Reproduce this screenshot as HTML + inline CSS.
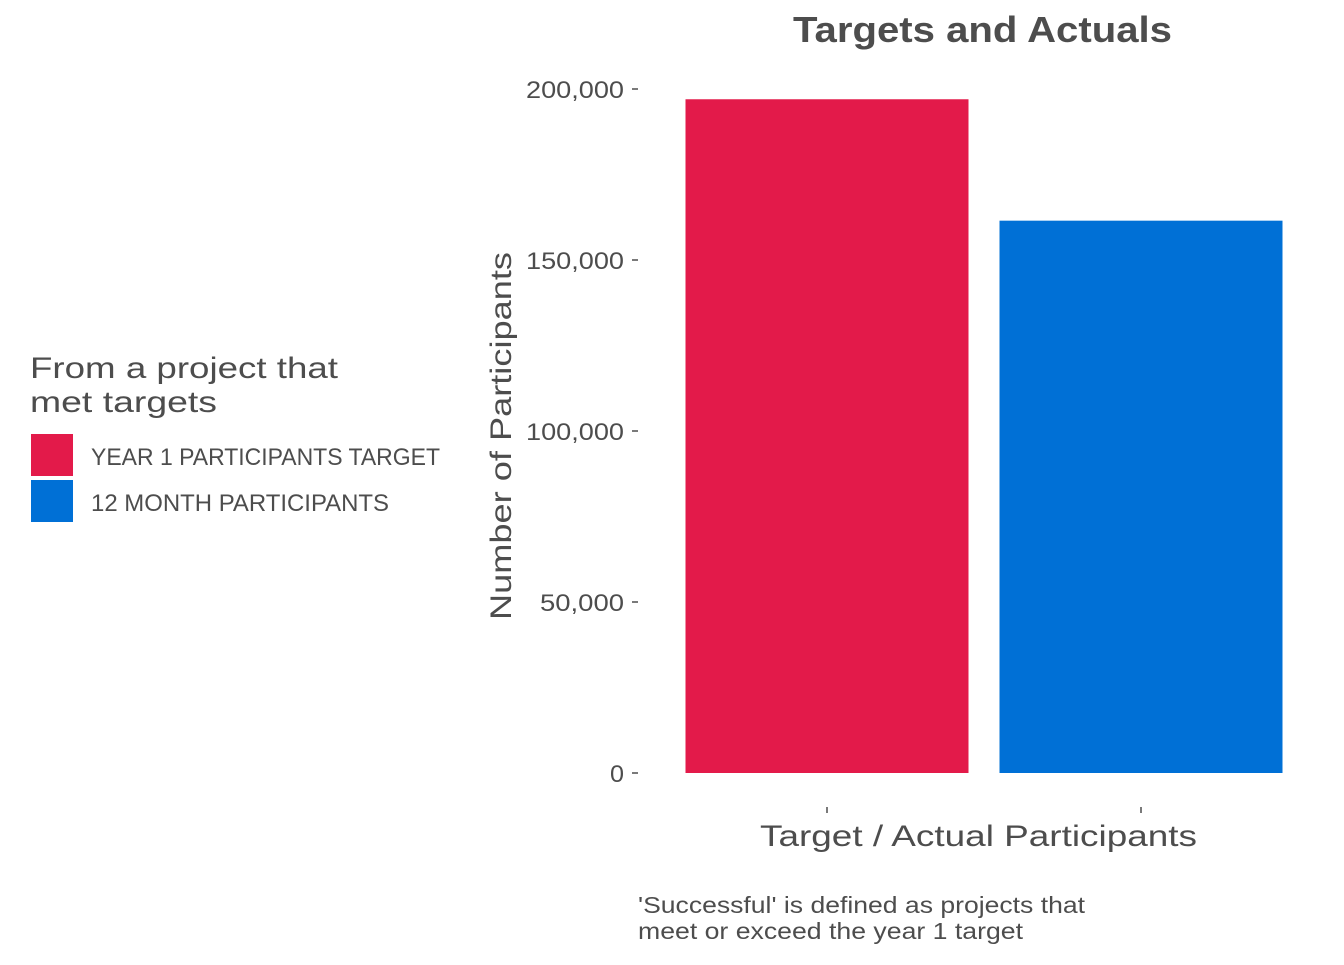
<!DOCTYPE html>
<html><head><meta charset="utf-8"><style>
body{margin:0;background:#fff;width:1344px;height:960px;overflow:hidden;font-family:"Liberation Sans",sans-serif;color:#4d4d4d}
svg text{font-family:"Liberation Sans",sans-serif;fill:#4d4d4d}
</style></head><body>
<svg width="1344" height="960">
<text x="793" y="42" font-size="36" font-weight="bold" textLength="379" lengthAdjust="spacingAndGlyphs">Targets and Actuals</text>
<g id="yaxis"></g>
<g id="bars"></g>
<g id="xaxis"></g>
<text transform="translate(511,620) rotate(-90)" font-size="30" textLength="368" lengthAdjust="spacingAndGlyphs">Number of Participants</text>
<text x="760" y="846" font-size="30" textLength="437" lengthAdjust="spacingAndGlyphs">Target / Actual Participants</text>
<g>
<text x="30" y="378" font-size="30" textLength="308" lengthAdjust="spacingAndGlyphs">From a project that</text>
<text x="30" y="412" font-size="30" textLength="187" lengthAdjust="spacingAndGlyphs">met targets</text>
<rect x="31" y="434" width="42" height="42" fill="#e31a4a"/>
<text x="91" y="465" font-size="24" textLength="349" lengthAdjust="spacingAndGlyphs">YEAR 1 PARTICIPANTS TARGET</text>
<rect x="31" y="480" width="42" height="42" fill="#0070d6"/>
<text x="91" y="511" font-size="24" textLength="298" lengthAdjust="spacingAndGlyphs">12 MONTH PARTICIPANTS</text>
</g>
<text x="638" y="913" font-size="23" textLength="447" lengthAdjust="spacingAndGlyphs">'Successful' is defined as projects that</text>
<text x="638" y="939" font-size="23" textLength="385" lengthAdjust="spacingAndGlyphs">meet or exceed the year 1 target</text>
</svg>
<script>
const categories=["YEAR 1 PARTICIPANTS TARGET","12 MONTH PARTICIPANTS"];
const values=[197000,161500];
const colors=["#e31a4a","#0070d6"];
const yTicks=[0,50000,100000,150000,200000];
const yTickLabels=["0","50,000","100,000","150,000","200,000"];
const NS="http://www.w3.org/2000/svg";
const y0=773,y1=89,vmax=200000;
function y(v){return y0-(v/vmax)*(y0-y1);}
const bandL=670,bandW=628,n=categories.length,step=bandW/n,bw=283;
function xc(i){return bandL+step*(i+0.5);}
const ya=document.getElementById('yaxis');
yTicks.forEach((t,i)=>{
 const tx=document.createElementNS(NS,'text');
 tx.setAttribute('x',624);tx.setAttribute('y',y(t)+9);tx.setAttribute('font-size',24);tx.setAttribute('text-anchor','end');
 tx.setAttribute('textLength',yTickLabels[i].length*14);tx.setAttribute('lengthAdjust','spacingAndGlyphs');
 tx.textContent=yTickLabels[i];
 
 
 ya.appendChild(tx);
 const l=document.createElementNS(NS,'line');
 l.setAttribute('x1',632);l.setAttribute('x2',638);l.setAttribute('y1',y(t));l.setAttribute('y2',y(t));l.setAttribute('stroke','#4d4d4d');l.setAttribute('stroke-width',1.5);
 
 
 ya.appendChild(l);
});
const bg=document.getElementById('bars'),xa=document.getElementById('xaxis');
values.forEach((v,i)=>{
 const r=document.createElementNS(NS,'rect');
 r.setAttribute('x',xc(i)-bw/2);r.setAttribute('width',bw);r.setAttribute('y',y(v));r.setAttribute('height',y0-y(v));r.setAttribute('fill',colors[i]);
 
 
 bg.appendChild(r);
 const l=document.createElementNS(NS,'line');
 l.setAttribute('x1',xc(i));l.setAttribute('x2',xc(i));l.setAttribute('y1',807);l.setAttribute('y2',813);l.setAttribute('stroke','#4d4d4d');l.setAttribute('stroke-width',1.5);
 
 
 xa.appendChild(l);
});
</script>
</body></html>
